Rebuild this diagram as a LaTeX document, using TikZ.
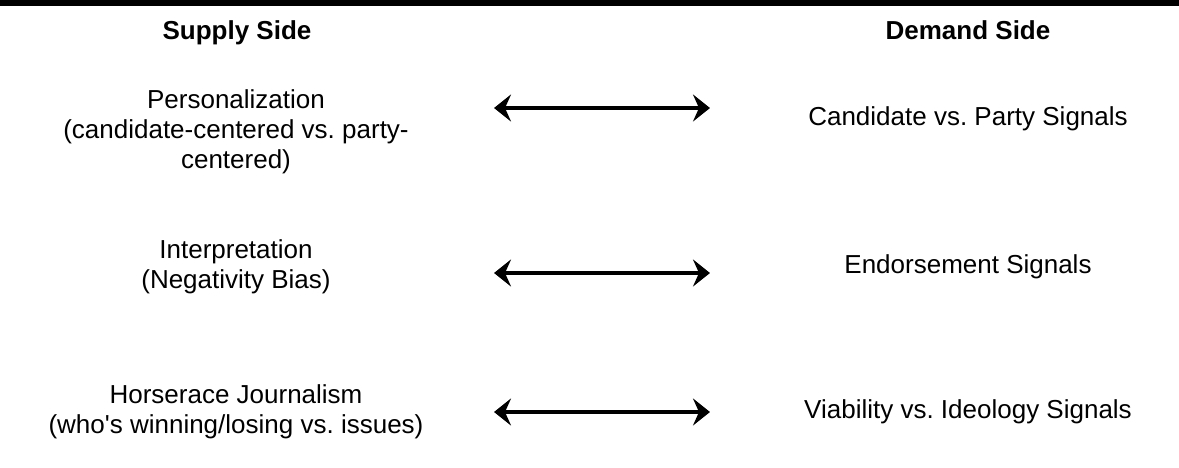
\documentclass[tikz,border=0pt]{standalone}
\usepackage{fontspec}
\setmainfont{Liberation Sans}
\usepackage{tikz}
\usetikzlibrary{arrows.meta, positioning}
\frenchspacing

\begin{document}
\begin{tikzpicture}[
    x=1pt, y=-1pt,
    head/.style={anchor=base, inner sep=0pt,
                 font=\fontsize{26}{30}\selectfont\bfseries},
    item/.style={anchor=base, inner sep=0pt, align=center,
                 font=\fontsize{26}{30}\selectfont},
    arr/.style={{Stealth[length=17pt, width=27pt, inset=6pt]}-{Stealth[length=17pt, width=27pt, inset=6pt]},
                line width=4pt}
  ]

    \useasboundingbox (0,0) rectangle (1179,467);
    \fill[black] (0,0) rectangle (1179,6);

    \node[head] (supply) at (237,39) {Supply Side};
    \node[head] (demand) at (968,39) {Demand Side};

    \node[item] (person)  at (236,168) {Personalization\\(candidate-centered vs. party-\\centered)};
    \node[item] (interp)  at (236,288) {Interpretation\\(Negativity Bias)};
    \node[item] (horse)   at (236,433) {Horserace Journalism\\(who\textquotesingle s winning/losing vs. issues)};

    \node[item] (cand)    at (968,125) {Candidate vs. Party Signals};
    \node[item] (endorse) at (968,273) {Endorsement Signals};
    \node[item] (viab)    at (968,418) {Viability vs. Ideology Signals};

    \coordinate (a1l) at (494,108);  \coordinate (a1r) at (710,108);
    \coordinate (a2l) at (494,273);  \coordinate (a2r) at (710,273);
    \coordinate (a3l) at (494,412);  \coordinate (a3r) at (710,412);

    \draw[arr] (a1l) -- (a1r);
    \draw[arr] (a2l) -- (a2r);
    \draw[arr] (a3l) -- (a3r);

  \end{tikzpicture}
\end{document}
